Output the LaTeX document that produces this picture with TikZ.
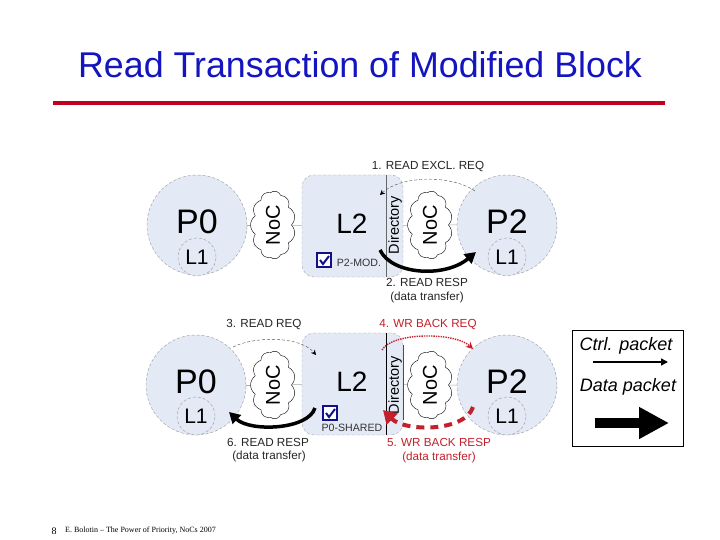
\documentclass[tikz,border=0pt]{standalone}
\usepackage{fontspec}
\setmainfont{Liberation Sans}
\newfontfamily\footfont{Liberation Serif}
\usetikzlibrary{shapes.symbols,arrows.meta,calc}
\definecolor{paleblue}{HTML}{E3E9F5}
\definecolor{redline}{HTML}{C00020}
\definecolor{msgred}{HTML}{C4202C}
\definecolor{boxblue}{HTML}{10108C}
\definecolor{titleblue}{HTML}{1414C0}
\tikzset{
  x=1pt,y=-1pt,
  proc/.style={circle,draw=gray!80,densely dashed,line width=0.4pt,fill=paleblue,minimum size=100pt,inner sep=0pt},
  lone/.style={circle,draw=gray!80,densely dashed,line width=0.4pt,fill=paleblue,minimum size=38pt,inner sep=0pt,font=\fontsize{21}{21}\selectfont},
  noc/.style={cloud,cloud puffs=11,cloud puff arc=110,draw=black,line width=0.4pt,fill=white,rotate=90,minimum width=68pt,minimum height=45pt,inner sep=0pt,aspect=1.5,font=\fontsize{20}{20}\selectfont},
  ltwo/.style={rectangle,rounded corners=12pt,draw=gray!70,densely dashed,line width=0.4pt,fill=paleblue,minimum width=101pt,minimum height=102pt,inner sep=0pt},
  bigtxt/.style={inner sep=0pt,font=\fontsize{34}{34}\selectfont},
  ltxt/.style={inner sep=0pt,font=\fontsize{28}{28}\selectfont},
  dirtxt/.style={rotate=90,inner sep=0pt,font=\fontsize{14.5}{14.5}\selectfont},
  lbl/.style={inner sep=0pt,font=\fontsize{11.7}{11.7}\selectfont,text=black!85},
  rlbl/.style={lbl,text=msgred},
  smalltxt/.style={inner sep=0pt,font=\fontsize{10.6}{10.6}\selectfont,text=black!80},
  wire/.style={draw=gray!70,line width=0.5pt},
  chk/.style={rectangle,draw=boxblue,line width=2.4pt,fill=white,minimum size=14pt,inner sep=0pt},
  chkmark/.style={draw=boxblue,line width=2pt},
  ctrlarrow/.style={draw=black!70,densely dashed,line width=0.4pt,-{Stealth[length=5pt,width=5pt,black]}},
  dataarrow/.style={draw=black,line width=3.5pt,-{Triangle[length=11pt,width=12pt]}},
  legtxt/.style={inner sep=0pt,font=\itshape\fontsize{18}{18}\selectfont},
}
\begin{document}
\begin{tikzpicture}
\useasboundingbox (0,0) rectangle (720,540);
\fill[white] (0,0) rectangle (720,540);
% title
\node[inner sep=0pt,font=\fontsize{35.8}{35.8}\selectfont,text=titleblue] (title) at (360,65) {Read Transaction of Modified Block};
\coordinate (ruleL) at (53,103); \coordinate (ruleR) at (665,103);
\draw[redline,line width=3.5pt] (ruleL) -- (ruleR);

% ---- top
\node[proc] (p0a) at (197,225) {};
\node[bigtxt] (p0at) at (197,222) {P0};
\node[lone] (l1a) at (197,257) {L1};
\node[ltwo] (l2a) at (352.5,226) {};
\node[proc] (p2a) at (507,225) {};
\node[bigtxt] (p2at) at (507,222) {P2};
\node[lone] (l1b) at (507,257) {L1};
\node[noc] (noc1a) at (273,225) {NoC};
\node[noc] (noc2a) at (430,225) {NoC};
\draw[wire] (p0a) -- (noc1a);
\draw[wire] (noc1a) -- (l2a);
\draw[wire] (l2a) -- (noc2a);
\draw[wire] (noc2a) -- (p2a);
\coordinate (divat) at (386,175); \coordinate (divab) at (386,277);
\draw[draw=black!60,line width=1pt] (divat) -- (divab);
\node[ltxt] (l2at) at (352,224) {L2};
\node[dirtxt] (dira) at (395,225) {Directory};
\node[chk] (cka) at (324,260) {};
\draw[chkmark] ($(cka)+(-4,0)$) -- ($(cka)+(-1,4)$) -- ($(cka)+(5,-4)$);
\node[smalltxt] (moda) at (359,263) {P2-MOD.};
\coordinate (ctrlAs) at (475,191); \coordinate (ctrlAe) at (380,195);
\draw[ctrlarrow] (ctrlAs) .. controls (450,174) and (400,176) .. (ctrlAe);
\coordinate (dataAs) at (380,250); \coordinate (dataAe) at (476,252);
\draw[dataarrow] (dataAs) .. controls (392,275) and (445,278) .. (dataAe);
\node[lbl] (m1) at (428,167) {1. READ EXCL. REQ};
\node[lbl] (m2) at (427,282) {2. READ RESP};
\node[lbl] (m2b) at (427,297) {(data transfer)};

% ---- bottom
\node[proc] (p0b) at (196,385) {};
\node[bigtxt] (p0bt) at (196,382) {P0};
\node[lone] (l1c) at (196,416) {L1};
\node[ltwo] (l2b) at (352.5,384) {};
\node[proc] (p2b) at (507,385) {};
\node[bigtxt] (p2bt) at (507,382) {P2};
\node[lone] (l1d) at (507,416) {L1};
\node[noc] (noc1b) at (273,385) {NoC};
\node[noc] (noc2b) at (430,385) {NoC};
\draw[wire] (p0b) -- (noc1b);
\draw[wire] (noc1b) -- (l2b);
\draw[wire] (l2b) -- (noc2b);
\draw[wire] (noc2b) -- (p2b);
\coordinate (divbt) at (386,333); \coordinate (divbb) at (386,435);
\draw[draw=black,line width=0.8pt] (divbt) -- (divbb);
\coordinate (edget) at (403,345); \coordinate (edgeb) at (403,420);
\draw[draw=black!70,line width=0.6pt] (edget) -- (edgeb);
\node[ltxt] (l2bt) at (352,382) {L2};
\node[dirtxt] (dirb) at (395,385) {Directory};
\node[chk] (ckb) at (330,413) {};
\draw[chkmark] ($(ckb)+(-4,0)$) -- ($(ckb)+(-1,4)$) -- ($(ckb)+(5,-4)$);
\node[smalltxt] (modb) at (352,428) {P0-SHARED};
\coordinate (ctrlBs) at (233,347); \coordinate (ctrlBe) at (316,355);
\draw[ctrlarrow] (ctrlBs) .. controls (255,336) and (300,336) .. (ctrlBe);
\coordinate (wrqs) at (382,350); \coordinate (wrqe) at (473,349);
\draw[msgred,line width=1.4pt,densely dotted,-{Stealth[length=7pt,width=7pt]}] (wrqs) .. controls (392,332) and (455,332) .. (wrqe);
\coordinate (dataBs) at (315,408); \coordinate (dataBe) at (229,412);
\draw[dataarrow] (dataBs) .. controls (308,430) and (250,432) .. (dataBe);
\coordinate (dataCs) at (473,407); \coordinate (dataCe) at (383,410);
\draw[msgred,line width=4pt,dash pattern=on 8pt off 6pt,-{Triangle[length=13pt,width=15pt]}] (dataCs) .. controls (465,432) and (405,432) .. (dataCe);
\node[lbl] (m3) at (264,325) {3. READ REQ};
\node[rlbl] (m4) at (428,325) {4. WR BACK REQ};
\node[rlbl] (m5) at (439,442) {5. WR BACK RESP};
\node[rlbl] (m5b) at (439,457) {(data transfer)};
\node[lbl] (m6) at (268,442) {6. READ RESP};
\node[lbl] (m6b) at (269,456) {(data transfer)};

% ---- legend
\node[rectangle,draw=black,line width=0.6pt,minimum width=111pt,minimum height=116pt,inner sep=0pt] (legend) at (627.5,388) {};
\node[legtxt] (lgc) at (626,346) {Ctrl. packet};
\node[legtxt] (lgd) at (628,387) {Data packet};
\coordinate (lcs) at (593,362); \coordinate (lce) at (668,362);
\draw[line width=1.4pt,-{Triangle[length=7pt,width=7pt]}] (lcs) -- (lce);
\coordinate (lds) at (595,423); \coordinate (lde) at (669,423);
\draw[line width=10pt,-{Triangle[length=30pt,width=30pt]}] (lds) -- (lde);

% ---- footer
\node[inner sep=0pt,font=\footfont\fontsize{10}{10}\selectfont] (pg) at (54,531) {8};
\node[inner sep=0pt,anchor=west,font=\footfont\fontsize{8}{8}\selectfont] (ft) at (65,531) {E. Bolotin – The Power of Priority, NoCs 2007};
\end{tikzpicture}
\end{document}
